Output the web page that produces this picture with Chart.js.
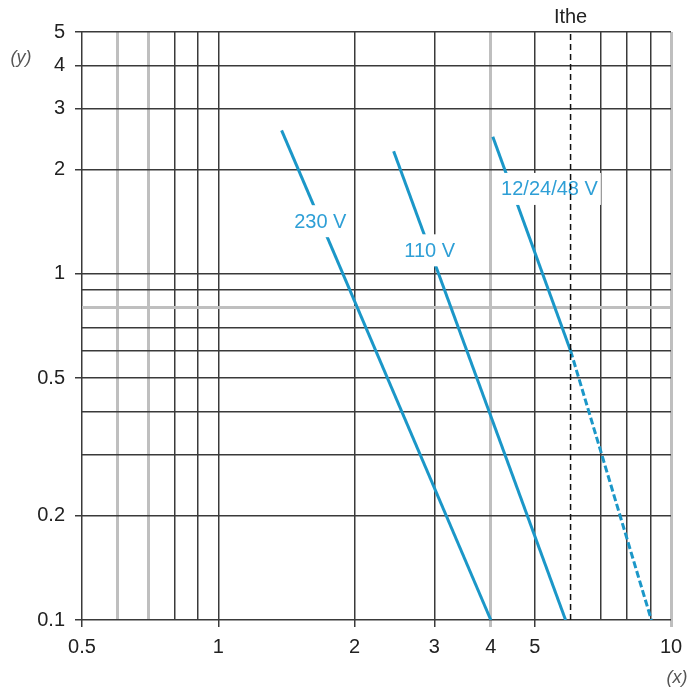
<!DOCTYPE html>
<html>
<head>
<meta charset="utf-8">
<script src="https://cdn.jsdelivr.net/npm/chart.js@4.4.1/dist/chart.umd.min.js"></script>
<style>
  html, body { margin: 0; padding: 0; background: #fff; }
</style>
</head>
<body>
<canvas id="myChart" width="700" height="700"></canvas>
<script>
// Axis grid values and which ones carry a label
let xGrid = [0.5, 0.6, 0.7, 0.8, 0.9, 1, 2, 3, 4, 5, 7, 8, 9, 10];
let xLabels = [0.5, 1, 2, 3, 4, 5, 10];
let xGray = [0.6, 0.7, 4, 10];
let yGrid = [0.1, 0.2, 0.3, 0.4, 0.5, 0.6, 0.7, 0.8, 0.9, 1, 2, 3, 4, 5];
let yLabels = [0.1, 0.2, 0.5, 1, 2, 3, 4, 5];
let yGray = [0.8];

// Curves, as [x, y]
let curve230 = [[1.38, 2.6], [4.0, 0.1]];
let curve110 = [[2.44, 2.26], [5.85, 0.1]];
let curveLow = [[4.04, 2.49], [6, 0.6]];
let curveLowDashed = [[6, 0.6], [9.05, 0.1]];
let ithe = 6;

// Curve names and where they sit
let curveNames = ['230 V', '110 V', '12/24/48 V'];
let nameSpots = [[1.68, 1.42], [2.93, 1.17], [5.39, 1.76]];

let blue = '#1b97c8';
let nameBlue = '#2e9fd6';
let dark = '#3a3a3a';
let gray = '#bfbfbf';
let fontFamily = '"Liberation Sans", Arial, sans-serif';

toPoints = (arr) => arr.map(p => ({ x: p[0], y: p[1] }));

// Curve names with a white box (gap in lines), plus axis texts
let textPlugin = {
    id: 'textPlugin',
    afterDatasetDraw(chart, args) {
        if (args.index !== 1) return;
        let ctx = chart.ctx;
        let xs = chart.scales.x;
        let ys = chart.scales.y;
        ctx.save();
        ctx.font = '20px ' + fontFamily;
        ctx.textAlign = 'center';
        ctx.textBaseline = 'middle';
        curveNames.forEach((name, i) => {
            let px = xs.getPixelForValue(nameSpots[i][0]);
            let py = ys.getPixelForValue(nameSpots[i][1]);
            let w = ctx.measureText(name).width;
            ctx.fillStyle = '#fff';
            ctx.fillRect(px - w / 2 - 3, py - 16, w + 6, 32);
            ctx.fillStyle = nameBlue;
            ctx.fillText(name, px, py + 1);
        });
        ctx.restore();
    },
    afterDraw(chart) {
        let ctx = chart.ctx;
        let area = chart.chartArea;
        ctx.save();
        ctx.textAlign = 'center';
        ctx.textBaseline = 'middle';
        ctx.fillStyle = '#222';
        ctx.font = '20px ' + fontFamily;
        ctx.fillText('Ithe', chart.scales.x.getPixelForValue(ithe), area.top - 15);
        ctx.fillStyle = '#555';
        ctx.font = 'italic 18px ' + fontFamily;
        ctx.fillText('(y)', area.left - 61, area.top + 26);
        ctx.fillText('(x)', area.right + 6, area.bottom + 58);
        ctx.restore();
    }
};

let lineStyle = (data, dash) => ({
    data: toPoints(data),
    borderColor: blue,
    borderWidth: 3,
    borderDash: dash || [],
    pointRadius: 0,
    tension: 0,
    fill: false
});

let ctx = document.getElementById('myChart').getContext('2d');
let chart = new Chart(ctx, {
    type: 'line',
    data: {
        datasets: [
            {
                data: toPoints([[ithe, 0.1], [ithe, 5]]),
                borderColor: '#111',
                borderWidth: 1.5,
                borderDash: [6, 4],
                pointRadius: 0,
                fill: false
            },
            lineStyle(curve230),
            lineStyle(curve110),
            lineStyle(curveLow),
            lineStyle(curveLowDashed, [7, 3])
        ]
    },
    options: {
        responsive: false,
        animation: false,
        layout: { padding: { top: 32, right: 29, left: 0, bottom: 0 } },
        plugins: { legend: { display: false }, tooltip: { enabled: false } },
        scales: {
            x: {
                type: 'logarithmic',
                min: 0.5,
                max: 10,
                afterBuildTicks: (s) => { s.ticks = xGrid.map(v => ({ value: v })); },
                afterFit: (s) => { s.height = 80; },
                border: { display: false },
                grid: {
                    color: (c) => xGray.includes(c.tick.value) ? gray : dark,
                    lineWidth: (c) => xGray.includes(c.tick.value) ? 3 : 1.5,
                    tickLength: 7,
                    tickColor: (c) => xLabels.includes(c.tick.value) ? (xGray.includes(c.tick.value) ? gray : dark) : 'rgba(0,0,0,0)'
                },
                ticks: {
                    autoSkip: false,
                    maxRotation: 0,
                    padding: 8,
                    color: '#222',
                    font: { size: 20, family: fontFamily },
                    callback: (v) => xLabels.includes(v) ? String(v) : ''
                }
            },
            y: {
                type: 'logarithmic',
                min: 0.1,
                max: 5,
                afterBuildTicks: (s) => { s.ticks = yGrid.map(v => ({ value: v })); },
                afterFit: (s) => { s.width = 82; },
                border: { display: false },
                grid: {
                    color: (c) => yGray.includes(c.tick.value) ? gray : dark,
                    lineWidth: (c) => yGray.includes(c.tick.value) ? 3 : 1.5,
                    tickLength: 7,
                    tickColor: (c) => yLabels.includes(c.tick.value) ? dark : 'rgba(0,0,0,0)'
                },
                ticks: {
                    autoSkip: false,
                    padding: 10,
                    color: '#222',
                    font: { size: 20, family: fontFamily },
                    callback: (v) => yLabels.includes(v) ? String(v) : ''
                }
            }
        }
    },
    plugins: [textPlugin]
});
</script>
</body>
</html>
